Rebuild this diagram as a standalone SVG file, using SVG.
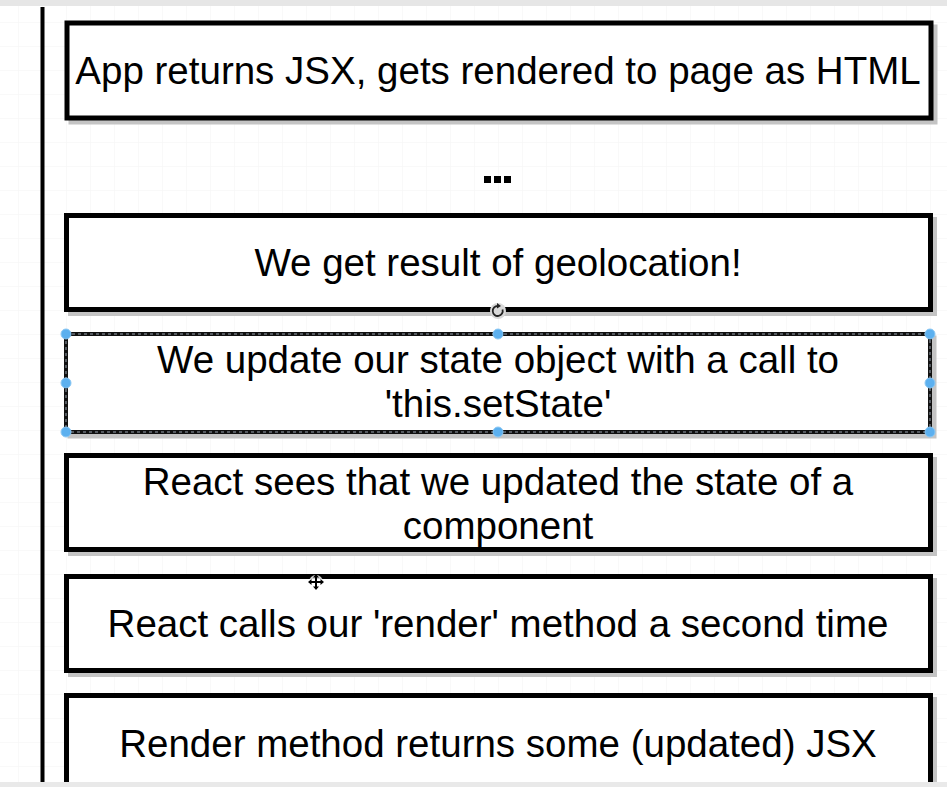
<svg xmlns="http://www.w3.org/2000/svg" width="947" height="787" viewBox="0 0 947 787">
  <defs>
    <pattern id="grid" width="24" height="24" patternUnits="userSpaceOnUse" x="-6" y="-2">
      <path d="M24 0H0V24" fill="none" stroke="#f3f3f3" stroke-width="1"/>
    </pattern>
    <style>
      .box{fill:#ffffff;stroke:#000000;stroke-width:5}
      .shadow{fill:none;stroke:#c4c4c4;stroke-width:5}
      .sel{fill:#ffffff;stroke:#111111;stroke-width:4}
      .seldash{fill:none;stroke:#9aa4b0;stroke-width:1;stroke-dasharray:3 3}
      .handle{fill:#5cb0ef;stroke:#8cc8f4;stroke-width:1}
      .t{font-family:"Liberation Sans",Arial,Helvetica,sans-serif;font-size:38.5px;fill:#000000;text-anchor:middle}
    </style>
  </defs>
  <rect width="947" height="787" fill="#ffffff"/>
  <rect width="947" height="787" fill="url(#grid)"/>
  <rect x="0" y="0" width="947" height="6" fill="#e6e6e6"/>
  <line x1="42.5" y1="7" x2="42.5" y2="782" stroke="#000" stroke-width="4"/>

  <g id="node1">
    <rect class="shadow" x="71" y="27" width="864" height="95"/>
    <rect class="box" x="67" y="23" width="864" height="95"/>
    <text class="t" x="498" y="84">App returns JSX, gets rendered to page as HTML</text>
  </g>

  <g id="ellipsis">
    <rect x="484" y="176" width="7" height="7" fill="#000"/>
    <rect x="494" y="176" width="7" height="7" fill="#000"/>
    <rect x="504" y="176" width="7" height="7" fill="#000"/>
  </g>

  <g id="node2">
    <rect class="shadow" x="70.5" y="219.5" width="864" height="94"/>
    <rect class="box" x="66.5" y="215.5" width="864" height="94"/>
    <text class="t" x="498" y="276">We get result of geolocation!</text>
  </g>

  <g id="rotate-icon">
    <circle cx="498" cy="311" r="8" fill="#d8d8d8"/>
    <path d="M502.5 309.5 A5 5 0 1 1 498 306" fill="none" stroke="#222" stroke-width="1.8"/>
    <path d="M497 303 L501 306 L497 308.5 Z" fill="#222"/>
  </g>

  <g id="node3">
    <rect class="shadow" x="70" y="338" width="864" height="98"/>
    <rect class="sel" x="66" y="334" width="864" height="98"/>
    <rect class="seldash" x="66" y="334" width="864" height="98"/>
    <text class="t" x="498" y="373">We update our state object with a call to</text>
    <text class="t" x="498" y="417">'this.setState'</text>
    <circle class="handle" cx="66" cy="334" r="5"/>
    <circle class="handle" cx="498" cy="334" r="5"/>
    <circle class="handle" cx="930" cy="334" r="5"/>
    <circle class="handle" cx="66" cy="383" r="5"/>
    <circle class="handle" cx="930" cy="383" r="5"/>
    <circle class="handle" cx="66" cy="432" r="5"/>
    <circle class="handle" cx="498" cy="432" r="5"/>
    <circle class="handle" cx="930" cy="432" r="5"/>
  </g>

  <g id="node4">
    <rect class="shadow" x="70.5" y="459.5" width="864" height="94"/>
    <rect class="box" x="66.5" y="455.5" width="864" height="94"/>
    <text class="t" x="498" y="495">React sees that we updated the state of a</text>
    <text class="t" x="498" y="539">component</text>
  </g>

  <g id="node5">
    <rect class="shadow" x="70.5" y="580.5" width="864" height="94"/>
    <rect class="box" x="66.5" y="576.5" width="864" height="94"/>
    <text class="t" x="498" y="637">React calls our 'render' method a second time</text>
  </g>

  <g id="move-cursor">
    <circle cx="316" cy="582" r="7" fill="#ffffff" opacity="0.8"/>
    <path d="M316 575 V589 M309 582 H323" stroke="#000" stroke-width="2"/>
    <path d="M316 574 L313 577.5 H319 Z M316 590 L313 586.5 H319 Z M308 582 L311.5 579 V585 Z M324 582 L320.5 579 V585 Z" fill="#000"/>
  </g>

  <g id="node6">
    <rect class="shadow" x="70.5" y="699.5" width="864" height="120"/>
    <rect class="box" x="66.5" y="695.5" width="864" height="120"/>
    <text class="t" x="498" y="757">Render method returns some (updated) JSX</text>
  </g>
  <rect x="0" y="782" width="947" height="5" fill="#e9e9e9"/>
</svg>
